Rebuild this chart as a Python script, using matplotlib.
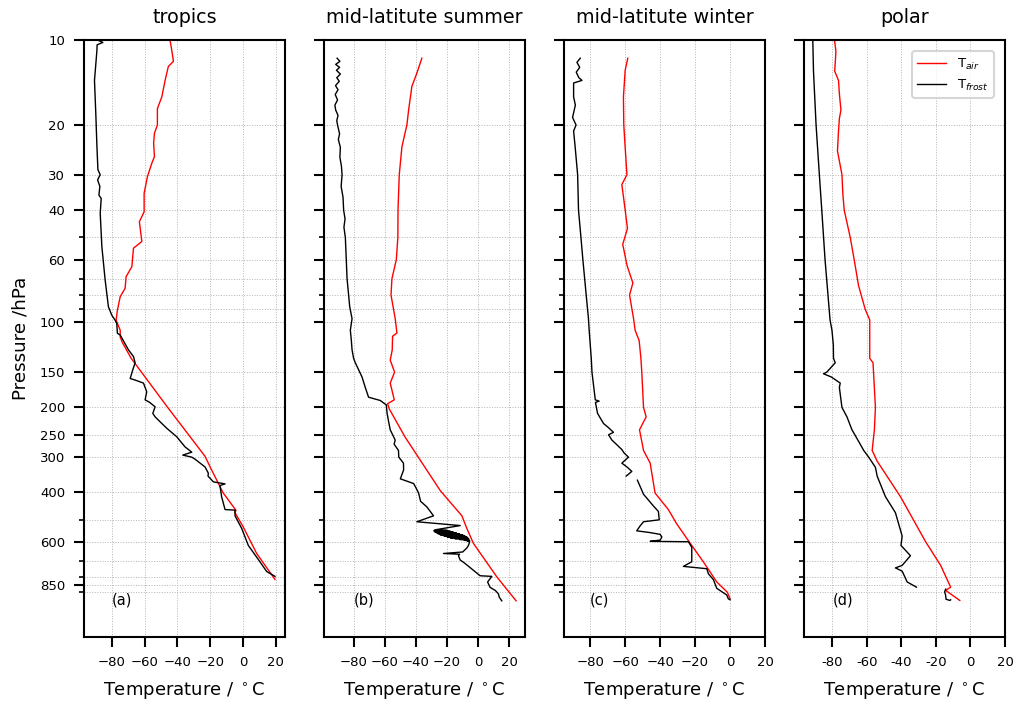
import numpy as np
import matplotlib
matplotlib.use("Agg")
import matplotlib.pyplot as plt
import matplotlib.ticker as ticker

# --- profile data (pressure hPa, temperature degC) ---
titles = ["tropics", "mid-latitute summer", "mid-latitute winter", "polar"]
letters = ["(a)", "(b)", "(c)", "(d)"]

air_p_trop = [10, 10.9, 11.9, 12.4, 13.9, 15.9, 17.5, 20, 21.4, 23.2, 25.9, 27.3, 30.5, 34.9,
              40.6, 44, 51.7, 54.6, 63.5, 68.9, 75.7, 81.1, 90.5, 98.2, 106.6, 112.7, 118,
              134, 199, 298, 325, 402, 463, 470, 530, 658, 813]
air_t_trop = [-44.5, -43.4, -42.4, -45.5, -47.5, -49.5, -52.2, -52.2, -54, -54.5, -54, -55.6,
              -58.3, -60.3, -60.3, -63.2, -61.7, -66.8, -67.8, -71.3, -71.9, -74.9, -76.6,
              -77.4, -74.9, -74.9, -73.5, -68.2, -46.2, -23.1, -20, -12, -4.2, -5, 0.2, 8.4, 19.6]
frost_p_trop = [10, 10.2, 10.4, 10.85, 11.8, 13.9, 18.2, 23.9, 28.8, 30, 31.3, 33, 35.4, 36.4,
                41.1, 53.9, 70.7, 88, 94.4, 98.2, 101, 109.3, 110.8, 125, 132, 139, 147, 158,
                160, 164, 176, 188, 192, 199, 210, 216, 225, 237, 254, 276, 288, 295, 300, 305,
                325, 342, 350, 367, 373, 378, 414, 460, 462, 484, 537, 616, 704, 762, 793]
frost_t_trop = [-88.8, -85.5, -89.0, -89.1, -89.6, -90.6, -89.8, -89.1, -88.5, -87.1, -88.7,
                -87.3, -87.9, -86.5, -87.1, -86.1, -84.1, -82.1, -80, -78, -77, -76.6, -74.9,
                -69.9, -66.8, -65.8, -67.2, -68.8, -65.8, -60.7, -58.7, -59.7, -56.9, -53.6,
                -55, -53.6, -50.5, -46.5, -40.4, -35.3, -31.2, -36.7, -31.2, -29.2, -23.1,
                -21.1, -21.3, -18, -10.9, -14, -13, -10.9, -4.8, -4.8, -0.7, 3.3, 10.4, 14.5, 19.6]

air_p_sum = [11.6, 13.1, 14.6, 17.7, 20, 23.9, 30, 40, 50, 60, 70, 80, 97, 109, 112, 125, 136,
             150, 164, 188, 194, 203, 255, 394, 484, 537, 606, 796, 968]
air_t_sum = [-36.2, -39.4, -42.6, -44.7, -45.8, -49, -50.7, -51.5, -51.6, -52.6, -55.4, -56,
             -53.3, -52.2, -55, -55.2, -56.5, -53.7, -56.5, -53.9, -58.2, -57, -46.9, -24.4,
             -10.5, -7.3, -3.1, 11.9, 24.3]
frost_p_sum = [11.6, 11.9, 12.2, 12.5, 12.8, 13.2, 13.6, 14.0, 14.5, 15.0, 15.6, 16.3, 17.0,
               17.7, 18.5, 19.3, 20, 21.5, 22.5, 24, 26, 28, 30, 33, 36, 40, 43, 46, 50, 60, 70,
               80, 88, 97, 106.6, 115, 125, 134, 139, 156, 170, 184, 189, 196, 210, 225, 240,
               261, 270, 284, 300, 315, 333, 358, 372, 385, 402, 430, 450, 467, 484, 508, 524,
               543, 545, 547, 549, 551, 553, 555, 557, 559, 561, 563, 565, 567, 569, 571, 573,
               575, 577, 579, 581, 583, 585, 587, 589, 591, 593, 595, 598,
               616, 629, 650, 658, 662, 670, 694, 710, 740, 789, 793, 830, 867, 890, 914, 940, 968]
frost_t_sum = [-90.6, -88.8, -91.5, -89, -91, -88.5, -90.8, -89.2, -91.6, -90.0, -91.8, -90.3,
               -92.0, -91.5, -90.0, -90.8, -90.3, -89.0, -89.8, -88.5, -88.8, -87.8, -87.4,
               -88.0, -86.8, -86.4, -85.5, -86.2, -85.3, -84.7, -84.2, -83.2, -82.5, -81,
               -82.1, -81.5, -81, -80, -78.9, -74.6, -72.5, -70.4, -62.9, -59, -58.5, -57.5,
               -56.5, -53.3, -54, -51.2, -51, -48, -47.9, -50, -41.5, -40, -38.3, -37, -33,
               -30.8, -28.7, -39.4, -11.6,
               -28, -20, -28.5, -18, -28, -16, -27, -14, -26, -12, -25, -10, -24, -9, -22,
               -8, -20, -7, -18, -6.5, -15, -6, -12, -6, -9, -5.5, -7, -5.5,
               -6.3, -7.3, -10, -22.3, -12, -12.7, -11.6, -9, -5, 1.2, 8.7, 6, 7.6, 11,
               12.9, 13.5, 15.1]

air_p_win = [11.6, 12.8, 15.9, 20, 24, 30, 32.5, 40, 46.5, 52.9, 63, 72.5, 80, 97, 106.6, 116,
             134, 150, 200, 216, 240, 284, 315, 402, 460, 517, 598, 704, 830, 903, 952]
air_t_win = [-58.5, -60, -61, -60.8, -60, -59, -61.9, -60, -58.7, -61.4, -58.9, -55.6, -57.5,
             -55.2, -54.3, -52, -51, -50.5, -49.5, -48, -51.8, -49.5, -45.7, -42.9, -35.3,
             -30.5, -23.4, -15.3, -7.6, -1.5, 0]
frost_p_win = [11.6, 12.0, 12.5, 13.0, 13.6, 13.9, 14.2, 15.9, 17, 18.8, 20, 21, 24, 30, 40,
               50, 60, 80, 97, 106.6, 134, 150, 188, 190, 192, 210, 228, 236, 245, 250, 261,
               271, 282, 290, 300, 315, 326, 337, 350, np.nan, 362, 406, 447, 467, 500, 508,
               525, 547, 555, 563, 575, 590, 596, 598, 626, 704, 731, 745, 776, 815, 874, 923,
               952, 960]
frost_t_win = [-85.7, -87.6, -86, -88, -86.5, -84.7, -89.5, -89.5, -88.5, -90.1, -88.1, -89.5,
               -88.6, -87.2, -86.7, -85.3, -84.2, -82.3, -81, -80.6, -79.4, -79, -77.1, -74.9,
               -77, -75.8, -72.4, -69.5, -66.7, -69.5, -67.6, -64.8, -61.9, -60.6, -58.1,
               -61.9, -58.7, -56.2, -59.4, np.nan, -53, -49.5, -43.8, -41, -40.5, -49.5, -51.4,
               -53.4, -45.7, -40, -39, -40, -45.7, -23.8, -21.9, -21.9, -26.7, -13.3, -12.4,
               -9.5, -7.6, -1.9, -1, 0]

air_p_pol = [10, 11, 12.9, 13.9, 15.5, 17.7, 19, 21, 24.7, 30, 35, 40, 50, 60, 74, 90, 98,
             106.6, 134, 139, 200, 240, 284, 310, 414, 598, 725, 866, 889, 965]
air_t_pol = [-78.8, -78, -78.7, -76.5, -76, -75.1, -76, -76.5, -77.1, -74.5, -74, -73.2,
             -69.7, -67.4, -64.9, -61, -58.4, -58.4, -58.4, -56.5, -55.1, -55.7, -57, -54.1,
             -40.6, -26, -17.3, -11.5, -14.4, -6.2]
frost_p_pol = [10, 12.9, 20, 30, 40, 60, 98, 106.6, 120, 134, 139, 150, 152, 156, 164, 170,
               200, 216, 240, 270, 284, 300, 326, 350, 414, 472, 571, 616, 670, 725, 740, 760,
               830, 866, np.nan, 880, 900, 925, 955, 965, 960]
frost_t_pol = [-91.4, -91, -89.5, -87.6, -86.2, -84.3, -81.4, -80.3, -79.5, -79.4, -78.4,
               -83.3, -85.2, -80.7, -75.5, -76, -74.5, -71.6, -68.7, -63.9, -61.9, -59, -55.1,
               -54.1, -49.3, -43.5, -39.6, -40.3, -34.8, -39.6, -43.5, -39.6, -36.7, -31.3,
               np.nan, -14.4, -15, -14.4, -14.2, -12, -11.5]

air_profiles = [(air_p_trop, air_t_trop), (air_p_sum, air_t_sum),
                (air_p_win, air_t_win), (air_p_pol, air_t_pol)]
frost_profiles = [(frost_p_trop, frost_t_trop), (frost_p_sum, frost_t_sum),
                  (frost_p_win, frost_t_win), (frost_p_pol, frost_t_pol)]
x_limits = [(-97, 25.7), (-99, 30), (-95, 20), (-96.5, 20)]

x_ticks = [-80, -60, -40, -20, 0, 20]
y_major = [10, 20, 30, 40, 60, 100, 150, 200, 250, 300, 400, 600, 850]
y_minor = [50, 70, 80, 90, 500, 700, 800, 900]

fig = plt.figure(figsize=(10.16, 7.02), dpi=100)
lefts = [84, 324, 564, 804]
axes = []
for i in range(4):
    ax = fig.add_axes([lefts[i] / 1016, 1 - 637 / 702, 201 / 1016, (637 - 40) / 702])
    axes.append(ax)

for i, ax in enumerate(axes):
    pa, ta = air_profiles[i]
    pf, tf = frost_profiles[i]
    ax.plot(ta, pa, color="red", lw=1.0, label="T$_{air}$")
    ax.plot(tf, pf, color="black", lw=1.0, label="T$_{frost}$")

    ax.set_yscale("log")
    ax.set_ylim(1300, 10)
    ax.set_xlim(*x_limits[i])

    ax.yaxis.set_major_locator(ticker.FixedLocator(y_major))
    ax.yaxis.set_minor_locator(ticker.FixedLocator(y_minor))
    ax.yaxis.set_minor_formatter(ticker.NullFormatter())
    if i == 0:
        ax.yaxis.set_major_formatter(ticker.FixedFormatter([str(v) for v in y_major]))
        ax.set_ylabel("Pressure /hPa", fontsize=13.2)
        ax.yaxis.set_label_coords(-0.27, 0.5)
    else:
        ax.yaxis.set_major_formatter(ticker.NullFormatter())

    ax.set_xticks(x_ticks)
    if i == 3:
        ax.set_xticklabels([str(v) for v in x_ticks])

    ax.grid(True, which="both", axis="y", ls=":", lw=0.7, color="0.7")
    ax.grid(True, which="major", axis="x", ls=":", lw=0.7, color="0.7")

    for s in ax.spines.values():
        s.set_linewidth(1.5)
    ax.tick_params(which="major", direction="out", length=7, width=1.5,
                   labelsize=9.5, pad=6.5)
    ax.tick_params(which="minor", direction="out", length=3.5, width=1.2)

    ax.set_title(titles[i], fontsize=13.8, pad=12.5)
    ax.set_xlabel("Temperature / $^\\circ$C", fontsize=13, labelpad=8.5)
    ax.text(-80, 960, letters[i], fontsize=10.5, ha="left", va="center")

leg = axes[3].legend(loc="upper right", fontsize=9.5, handlelength=2.2,
                     borderaxespad=0.85, labelspacing=0.45)
leg.get_frame().set_linewidth(1.5)
leg.get_frame().set_edgecolor("0.8")

fig.savefig("out.png", dpi=100)
